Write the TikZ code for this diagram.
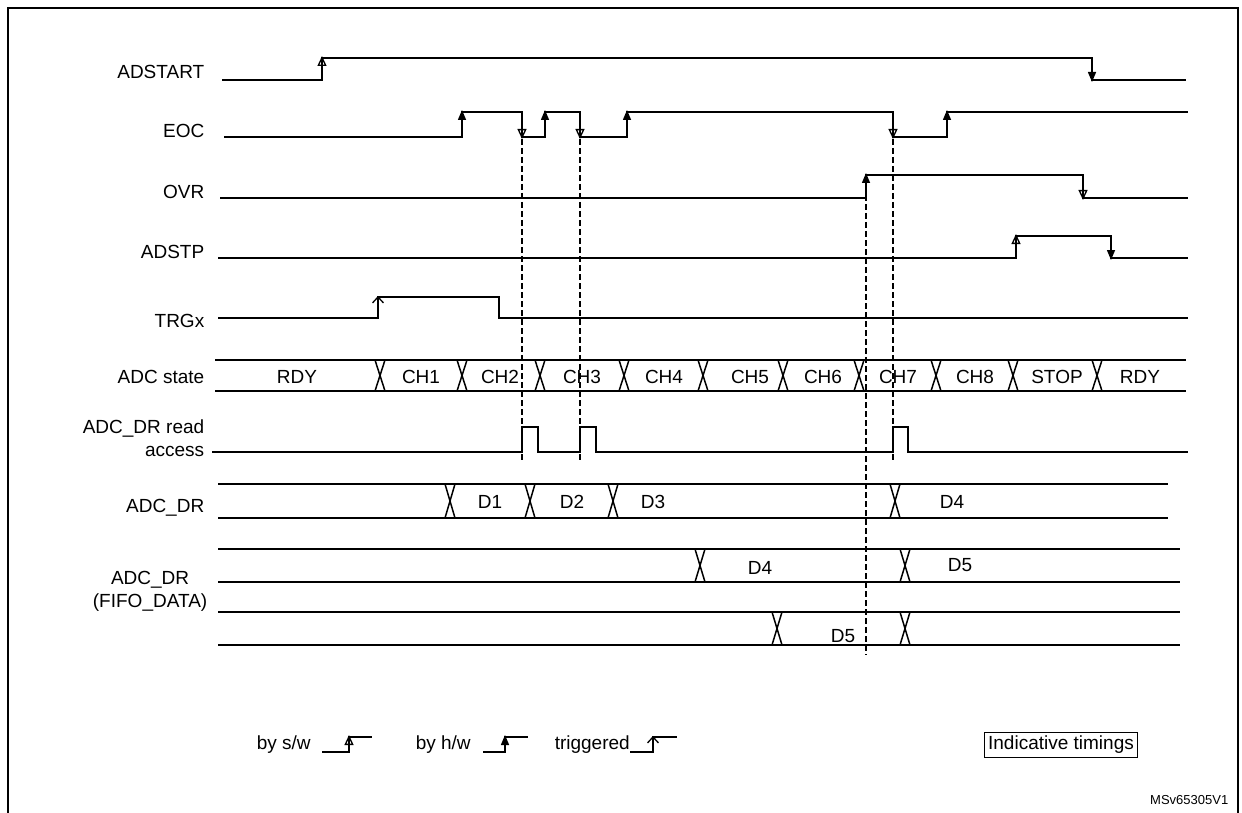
\documentclass[tikz,border=0pt]{standalone}
\usepackage{fontspec}
\setmainfont{Liberation Sans}
\usetikzlibrary{arrows.meta}
\tikzset{every picture/.style={line width=1.5pt}}
\tikzset{
  swedge/.style={-{Triangle[open,length=10pt,width=9pt,line width=1.3pt]}},
  hwedge/.style={-{Triangle[length=10pt,width=8pt]}},
  trigedge/.style={-{Straight Barb[length=6pt,width=11pt,line width=1.3pt]}},
  guide/.style={line width=1.3pt,dash pattern=on 6pt off 3pt},
  lbl/.style={anchor=east,inner sep=0pt,font=\fontsize{19}{23}\selectfont},
  txt/.style={inner sep=0pt,font=\fontsize{19}{23}\selectfont}
}
% crossing of a bus at x, between y top and y bottom
\newcommand{\buscross}[3]{%
  \fill[white] (#1-5,#2+1) rectangle (#1+5,#3-1);
  \draw (#1-5,#2) -- (#1,{(#2+#3)/2}) -- (#1-5,#3);
  \draw (#1+5,#2) -- (#1,{(#2+#3)/2}) -- (#1+5,#3);}
\begin{document}
\begin{tikzpicture}[x=1pt,y=1pt,yscale=-1,xscale=1]
    \useasboundingbox (0,0) rectangle (1242,813);
    % frame
    \draw (8,813) -- (8,8) -- (1238,8) -- (1238,813);

    % signal names
    \node[lbl] (nStart) at (205,72) {ADSTART};
    \node[lbl] (nEoc) at (205,131) {EOC};
    \node[lbl] (nOvr) at (205,192) {OVR};
    \node[lbl] (nStp) at (205,252) {ADSTP};
    \node[lbl] (nTrg) at (205,321) {TRGx};
    \node[lbl] (nState) at (205,377) {ADC state};
    \node[lbl,align=right] (nRead) at (205,438) {ADC\_DR read\\access};
    \node[lbl] (nDr) at (205,508) {ADC\_DR};
    \node[lbl,align=center] (nFifo) at (208,591) {ADC\_DR\\(FIFO\_DATA)};

    % ADSTART
    \draw (222,80) -- (322,80) -- (322,58) -- (1092,58) -- (1092,80) -- (1186,80);
    \draw[swedge] (322,80) -- (322,56);
    \draw[hwedge] (1092,58) -- (1092,82);
    % EOC
    \draw (224,137) -- (462,137) -- (462,112) -- (522,112) -- (522,137) -- (545,137) -- (545,112)
          -- (580,112) -- (580,137) -- (627,137) -- (627,112) -- (893,112) -- (893,137)
          -- (947,137) -- (947,112) -- (1188,112);
    \foreach \x in {462,545,627,947} \draw[hwedge] (\x,137) -- (\x,110);
    \foreach \x in {522,580,893} \draw[swedge] (\x,112) -- (\x,139);
    % OVR
    \draw (220,198) -- (866,198) -- (866,175) -- (1083,175) -- (1083,198) -- (1188,198);
    \draw[hwedge] (866,198) -- (866,173);
    \draw[swedge] (1083,175) -- (1083,200);
    % ADSTP
    \draw (218,258) -- (1016,258) -- (1016,236) -- (1111,236) -- (1111,258) -- (1188,258);
    \draw[swedge] (1016,258) -- (1016,234);
    \draw[hwedge] (1111,236) -- (1111,260);
    % TRGx
    \draw (218,318) -- (378,318) -- (378,297) -- (499,297) -- (499,318) -- (1188,318);
    \draw[trigedge] (378,318) -- (378,296);

    % ADC state
    \draw (215,360) -- (1186,360) (215,391) -- (1186,391);
    \foreach \x in {380,462,540,624,703,783,859,936,1013,1097} \buscross{\x}{360}{391};
    \foreach \x/\t in {297/RDY,421/CH1,500/CH2,582/CH3,664/CH4,750/CH5,823/CH6,898/CH7,975/CH8,1057/STOP,1140/RDY}
      \node[txt] at (\x,377) {\t};

    % ADC_DR read access
    \draw (212,452) -- (522,452) -- (522,427) -- (538,427) -- (538,452) -- (580,452) -- (580,427)
          -- (596,427) -- (596,452) -- (893,452) -- (893,427) -- (908,427) -- (908,452) -- (1188,452);

    % ADC_DR
    \draw (218,484) -- (1168,484) (218,518) -- (1168,518);
    \foreach \x in {450,530,613,895} \buscross{\x}{484}{518};
    \foreach \x/\t in {490/D1,572/D2,653/D3,952/D4} \node[txt] at (\x,502) {\t};
    % FIFO data
    \draw (218,549) -- (1180,549) (218,582) -- (1180,582);
    \foreach \x in {700,905} \buscross{\x}{549}{582};
    \node[txt] at (760,568) {D4};
    \node[txt] at (960,565) {D5};
    \draw (218,612) -- (1180,612) (218,645) -- (1180,645);
    \foreach \x in {777,905} \buscross{\x}{612}{645};
    \node[txt] at (843,636) {D5};

    % guides
    \draw[guide] (522,139) -- (522,460);
    \draw[guide] (580,139) -- (580,460);
    \draw[guide] (893,139) -- (893,460);
    \draw[guide] (866,177) -- (866,655);

    % legend
    \node[txt,anchor=west] (kSw) at (256,745) {by s/w};
    \draw (322,752) -- (349,752) -- (349,737) -- (372,737);
    \draw[swedge] (349,752) -- (349,735);
    \node[txt,anchor=west] (kHw) at (415,745) {by h/w};
    \draw (483,752) -- (505,752) -- (505,737) -- (528,737);
    \draw[hwedge] (505,752) -- (505,735);
    \node[txt,anchor=west] (kTrg) at (554,745) {triggered};
    \draw (630,752) -- (653,752) -- (653,737) -- (677,737);
    \draw[trigedge] (653,752) -- (653,736);
    \node[txt,draw,line width=1.2pt,inner sep=4pt] (kNote) at (1061,745) {Indicative timings};
    \node[inner sep=0pt,anchor=east,font=\fontsize{13}{15}\selectfont] (kId) at (1229,800) {MSv65305V1};
\end{tikzpicture}
\end{document}
